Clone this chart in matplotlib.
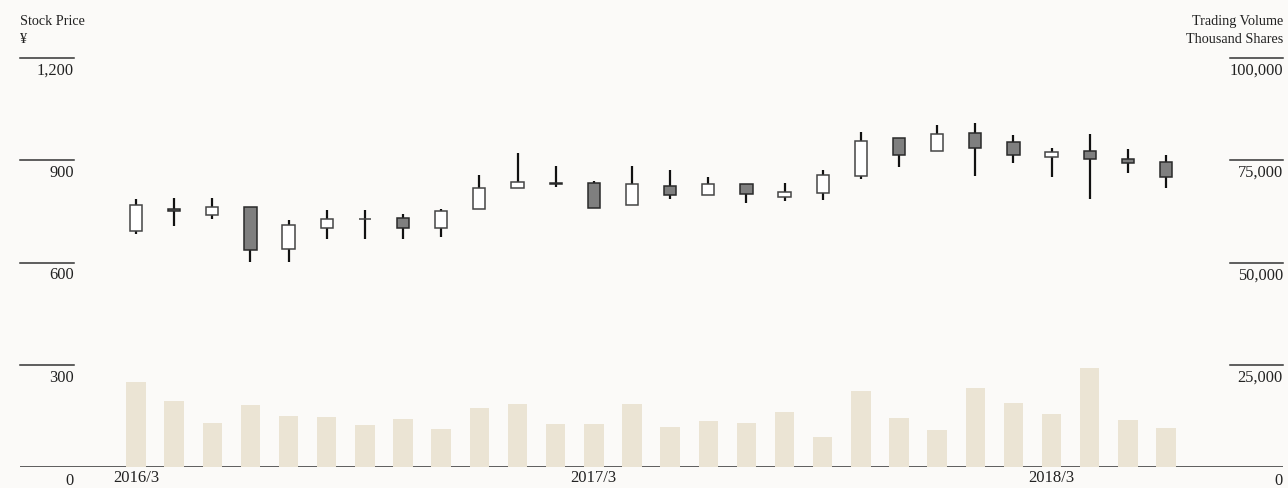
import matplotlib
matplotlib.use("Agg")
import matplotlib.pyplot as plt
import numpy as np

plt.rcParams['font.family'] = ['Liberation Serif', 'DejaVu Serif']

# Monthly OHLC (yen) and trading volume (thousand shares), 2016/3 - 2018/6
months = ['2016/3', '2016/4', '2016/5', '2016/6', '2016/7', '2016/8', '2016/9',
          '2016/10', '2016/11', '2016/12', '2017/1', '2017/2', '2017/3', '2017/4',
          '2017/5', '2017/6', '2017/7', '2017/8', '2017/9', '2017/10', '2017/11',
          '2017/12', '2018/1', '2018/2', '2018/3', '2018/4', '2018/5', '2018/6']
open_px = [692, 758, 739, 764, 640, 702, 727, 731, 701, 758, 818, 832, 832, 768,
           825, 797, 829, 792, 805, 855, 966, 927, 979, 953, 910, 926, 903, 896]
high_px = [786, 789, 789, 764, 725, 754, 754, 742, 757, 858, 922, 883, 838, 883,
           871, 851, 830, 833, 871, 983, 966, 1003, 1009, 974, 935, 977, 932, 915]
low_px = [684, 708, 727, 602, 602, 669, 669, 669, 676, 758, 818, 822, 759, 768,
          785, 797, 775, 780, 782, 844, 879, 927, 855, 893, 852, 787, 864, 820]
close_px = [769, 751, 764, 637, 709, 728, 727, 700, 752, 820, 835, 830, 761, 830,
            798, 831, 801, 808, 856, 957, 915, 977, 937, 915, 924, 904, 891, 850]
volume = [20800, 16100, 10800, 15200, 12500, 12200, 10300, 11700, 9300, 14400,
          15400, 10500, 10500, 15400, 9800, 11200, 10800, 13400, 7300, 18600,
          12000, 9000, 19300, 15600, 13000, 24200, 11500, 9500]

price_ticks = [300, 600, 900, 1200]
price_labels = ['300', '600', '900', '1,200']
vol_ticks = [25000, 50000, 75000, 100000]
vol_labels = ['25,000', '50,000', '75,000', '100,000']
xtick_idx = [0, 12, 24]

bg = '#fbfaf8'
txt = '#222222'
lab_fs = 11.8

fig = plt.figure(figsize=(12.88, 4.88), dpi=100, facecolor=bg)
W, H = 1288, 488
left_px, right_px, bottom_px, top_px = 20, 1283, 467, 58
ax = fig.add_axes([left_px / W, 1 - bottom_px / H,
                   (right_px - left_px) / W, (bottom_px - top_px) / H])
ax.set_facecolor(bg)
ax2 = ax.twinx()

x = np.arange(len(months))
o = np.array(open_px)
c = np.array(close_px)
up = c >= o

# volume
ax2.bar(x, volume, width=0.51, color='#ebe4d4', zorder=1)
ax2.set_ylim(0, 100000)

# candlesticks
ax.vlines(x, low_px, high_px, color='#111111', lw=1.6, zorder=2)
body_bottom = np.minimum(o, c)
body_height = np.abs(c - o)
ax.bar(x[up], body_height[up], bottom=body_bottom[up], width=0.32,
       facecolor='white', edgecolor='#444444', lw=1.1, zorder=3)
ax.bar(x[~up], body_height[~up], bottom=body_bottom[~up], width=0.32,
       facecolor='#7f7f7f', edgecolor='#2a2a2a', lw=1.1, zorder=3)

spacing = 38.15
ax.set_xlim(-(136 - left_px) / spacing, (right_px - 136) / spacing)
ax.set_ylim(0, 1200)

for a in (ax, ax2):
    for s in a.spines.values():
        s.set_visible(False)
    a.set_yticks([])
ax.set_xticks(xtick_idx)
ax.set_xticklabels([months[i] for i in xtick_idx], fontsize=12, color=txt)
ax.tick_params(axis='x', length=0, pad=2.5)

# baseline
ax.axhline(0, color='#333333', lw=1.1, zorder=4)

# short tick lines and labels
ytr = ax.get_yaxis_transform()
lx = (74 - left_px) / (right_px - left_px)
rx = (1230 - left_px) / (right_px - left_px)
for v, lab in zip(price_ticks, price_labels):
    ax.plot([0, lx], [v, v], color='#333333', lw=1.1, transform=ytr, clip_on=False)
    ax.annotate(lab, xy=(lx, v), xycoords=ytr, xytext=(0, -3.5), textcoords='offset points',
                ha='right', va='top', fontsize=lab_fs, color=txt)
ax.annotate('0', xy=(lx, 0), xycoords=ytr, xytext=(0, -4.5), textcoords='offset points',
            ha='right', va='top', fontsize=lab_fs, color=txt)

ytr2 = ax2.get_yaxis_transform()
for v, lab in zip(vol_ticks, vol_labels):
    ax2.plot([rx, 1], [v, v], color='#333333', lw=1.1, transform=ytr2, clip_on=False)
    ax2.annotate(lab, xy=(1, v), xycoords=ytr2, xytext=(0, -3.5), textcoords='offset points',
                 ha='right', va='top', fontsize=lab_fs, color=txt)
ax2.annotate('0', xy=(1, 0), xycoords=ytr2, xytext=(0, -4.5), textcoords='offset points',
             ha='right', va='top', fontsize=lab_fs, color=txt)

# axis headers
fig.text(left_px / W, 1 - 15 / H, 'Stock Price\n¥', ha='left', va='top',
         fontsize=10.2, color=txt, linespacing=1.5)
fig.text(right_px / W, 1 - 15 / H, 'Trading Volume\nThousand Shares', ha='right', va='top',
         fontsize=10.2, color=txt, linespacing=1.5, multialignment='right')

fig.savefig('out.png', dpi=100, facecolor=bg)
